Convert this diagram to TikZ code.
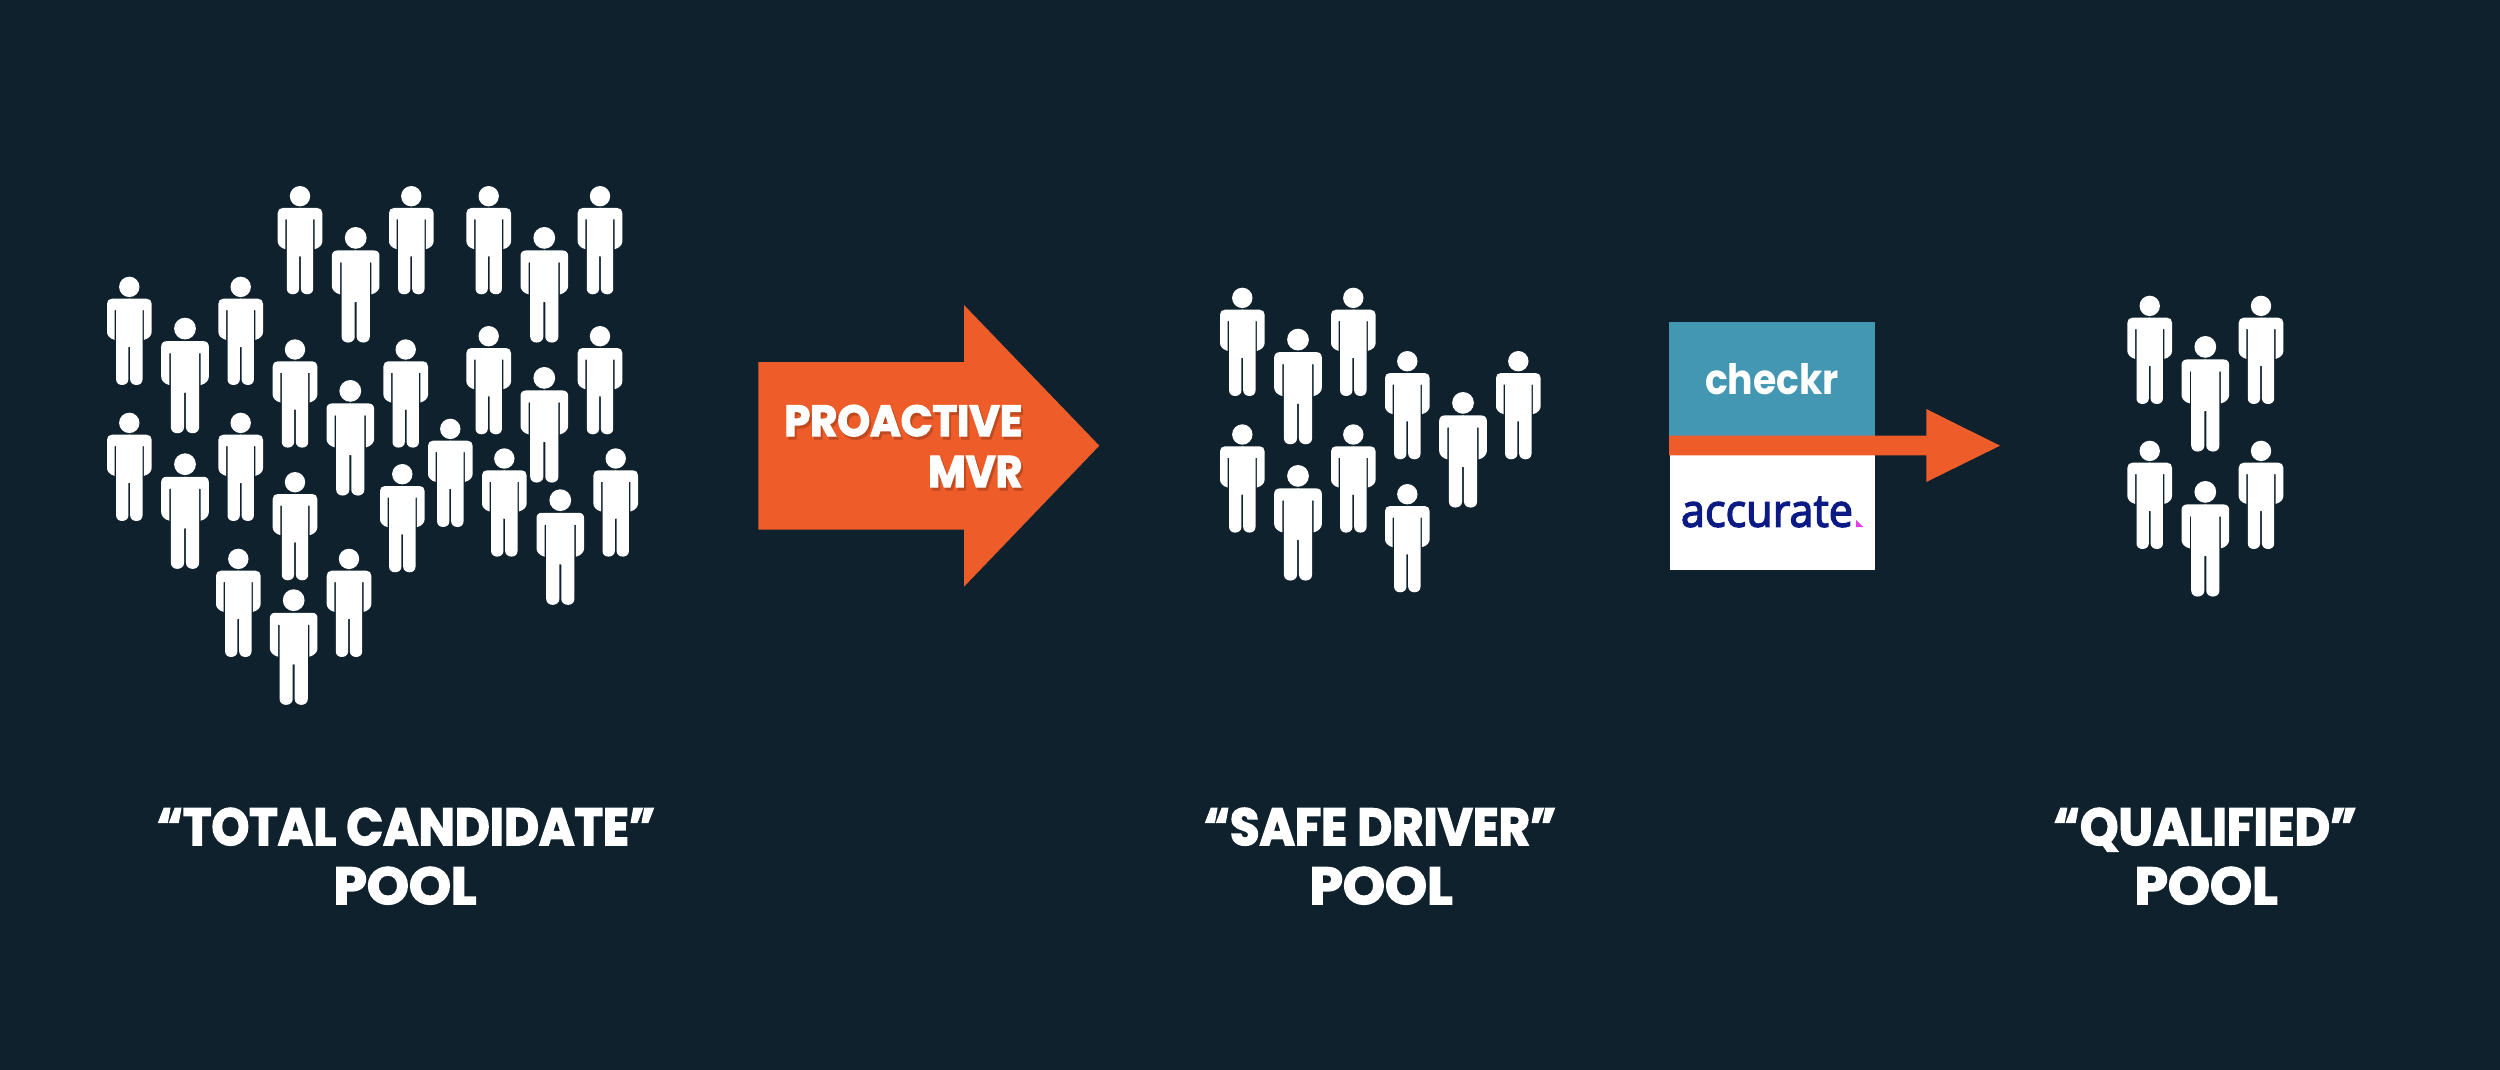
\documentclass[tikz,border=0pt]{standalone}
\usepackage{fontspec}
\usepackage{graphicx}
\setmainfont{Poppins}[BoldFeatures={FakeBold=3}]
\newfontfamily\accfont{Open Sans}[FakeBold=3]
\newfontfamily\chkfont{Poppins}[FakeBold=0]
\definecolor{bgc}{HTML}{0E212D}
\definecolor{orangec}{HTML}{EE5D29}
\definecolor{shadowc}{HTML}{BF4A20}
\definecolor{tealc}{HTML}{4397B3}
\definecolor{navyc}{HTML}{0C1A85}
\definecolor{pinkc}{HTML}{E23FE6}
\newlength{\pxu}\setlength{\pxu}{0.01cm}
% fitted text: width, height in reference pixels
\newcommand{\fit}[3]{\resizebox{#1\pxu}{#2\pxu}{#3}}
\newcommand{\halfman}{
  (-0.5,22) -- (17.3,22) .. controls (20.4,22) and (22.3,24) .. (22.3,27)
  -- (22.3,55.5) .. controls (22.3,58.5) and (19.6,62) .. (14.6,63.2)
  -- (14.6,33.5) .. controls (14.6,32.8) and (13.2,32.8) .. (13.2,33.5)
  -- (13.2,102.8) .. controls (13.2,106.3) and (10.4,108.3) .. (7.2,108.3)
  .. controls (4,108.3) and (0.9,106.3) .. (0.9,102.8)
  -- (0.9,70.5) .. controls (0.9,69.6) and (-0.5,69.6) .. (-0.5,70.5) -- cycle}
\tikzset{
  man/.pic={
    \fill[white] (0,10.2) circle (10.2);
    \fill[white] \halfman;
    \fill[white,xscale=-1] \halfman;
  },
  bigman/.style={scale=1.067},
  poolline/.style={inner sep=0pt,anchor=base,text=white,font=\bfseries},
  mvrline/.style={inner sep=0pt,anchor=base east,text=white,font=\bfseries},
  mvrshadow/.style={inner sep=0pt,anchor=base east,text=shadowc,font=\bfseries},
  logotext/.style={inner sep=0pt,anchor=base},
}
\begin{document}
\begin{tikzpicture}[x=0.01cm,y=-0.01cm]
\useasboundingbox (0,0) rectangle (2500,1070);
\fill[bgc] (0,0) rectangle (2500,1070);
% total candidate pool
\foreach \px/\py in {300/186,411.3/186,488.7/186,600/186,129.3/276.7,240.7/276.7,295/339.3,405.7/339.3,488.7/326,600/326,129.3/412.7,240.7/412.7,450.3/418.7,402.3/464,504.3/448.3,615.7/448.3,295/472,238.3/548.7,349/548.7}
  \pic at (\px,\py) {man};
\foreach \px/\py in {355.7/227,544.3/227,185/317.7,350.3/380,544.3/367,185/453.3,560.3/489.3,293.7/589.3}
  \pic[bigman] at (\px,\py) {man};
% safe driver pool
\foreach \px/\py in {1242.3/287.7,1353.3/287.7,1407.3/351,1518.3/351,1242.3/424.3,1353.3/424.3,1407.3/484}
  \pic at (\px,\py) {man};
\foreach \px/\py in {1298/328.7,1463/392,1298/465}
  \pic[bigman] at (\px,\py) {man};
% qualified pool
\foreach \px/\py in {2149.7/295.7,2261/295.7,2149.7/440.7,2261/440.7}
  \pic at (\px,\py) {man};
\foreach \px/\py in {2205.3/336,2205.3/481}
  \pic[bigman] at (\px,\py) {man};
% big arrow
\fill[orangec] (758.3,362) -- (964,362) -- (964,305) -- (1099.3,445.7) -- (964,586.7) -- (964,529.7) -- (758.3,529.7) -- cycle;
\node[mvrshadow] (proshadow) at (1025,439) {\fit{238}{31}{PROACTIVE}};
\node[mvrshadow] (mvrshadow) at (1025,490) {\fit{94}{31}{MVR}};
\node[mvrline] (pro) at (1023,436) {\fit{238}{31}{PROACTIVE}};
\node[mvrline] (mvr) at (1023,487) {\fit{94}{31}{MVR}};
% logos
\fill[tealc] (1669,321.7) rectangle (1875.3,440);
\fill[white] (1670,450) rectangle (1875.3,570.3);
\node[logotext,text=white,font=\chkfont\bfseries] (checkr) at (1772,394) {\fit{134}{31}{checkr}};
\node[logotext,text=navyc,font=\accfont] (accurate) at (1767,526.7) {\fit{172}{30}{accurate}};
\fill[pinkc] (1856,520) -- (1863.3,527) -- (1856,527) -- cycle;
% small arrow
\fill[orangec] (1669,435.7) -- (1926.3,435.7) -- (1926.3,409) -- (2000,445.7) -- (1926.3,482) -- (1926.3,455.3) -- (1669,455.3) -- cycle;
% labels
\node[poolline] (t1) at (406,845) {\fit{498}{37}{“TOTAL CANDIDATE”}};
\node[poolline] (t2) at (405,904) {\fit{143}{37}{POOL}};
\node[poolline] (s1) at (1380,845) {\fit{352}{37}{“SAFE DRIVER”}};
\node[poolline] (s2) at (1381,904) {\fit{143}{37}{POOL}};
\node[poolline] (q1) at (2205,845) {\fit{303}{37}{“QUALIFIED”}};
\node[poolline] (q2) at (2206,904) {\fit{143}{37}{POOL}};
\end{tikzpicture}
\end{document}
